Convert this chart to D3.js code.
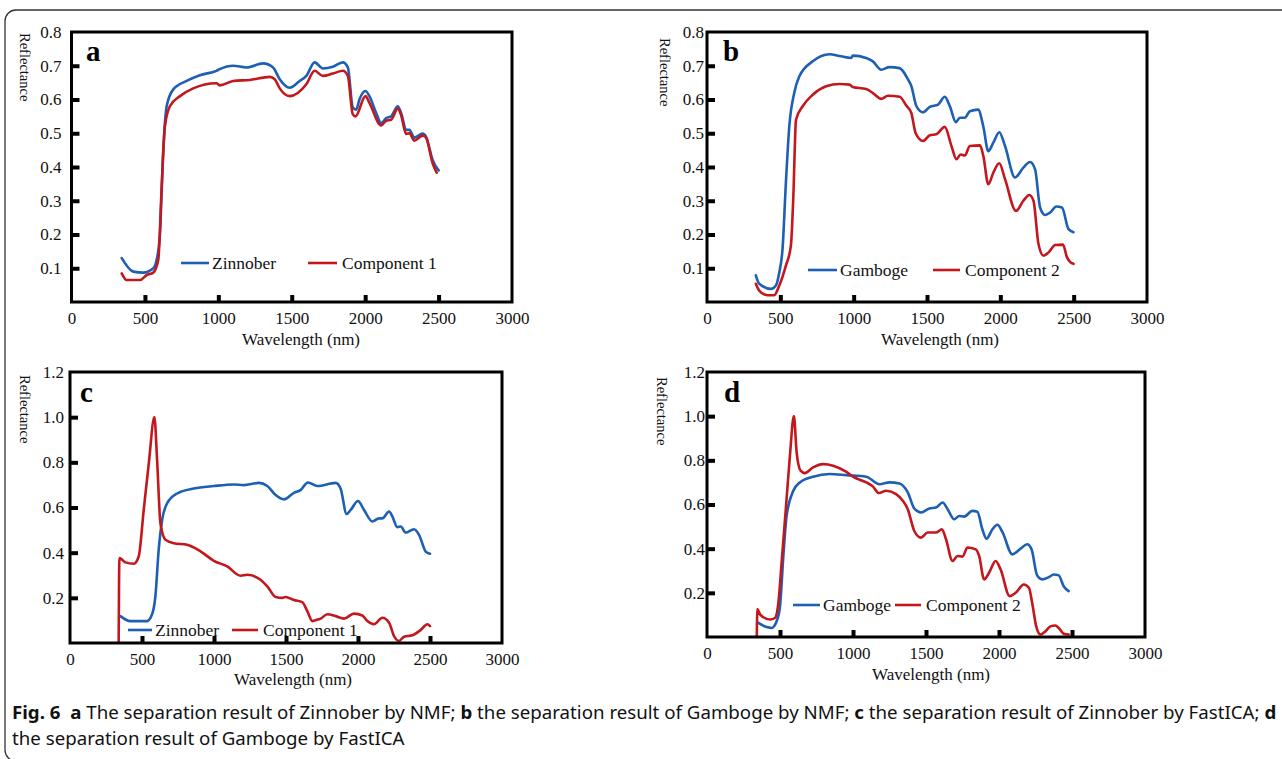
<!DOCTYPE html>
<html><head><meta charset="utf-8">
<script src="https://cdn.jsdelivr.net/npm/d3@7"></script>
<style>
html,body{margin:0;padding:0;background:#fff;}
svg{display:block;}
</style></head>
<body>
<svg id="chart" width="1282" height="759"></svg>
<script>
// ---------------- DATA ----------------
const xTicks = [0, 500, 1000, 1500, 2000, 2500, 3000];
const yTicksAB = [0.1, 0.2, 0.3, 0.4, 0.5, 0.6, 0.7, 0.8];
const yTicksCD = [0.2, 0.4, 0.6, 0.8, 1.0, 1.2];

// Panel a (NMF, Zinnober)
const aZinnoberX = [342,421,489,557,580,602,625,648,693,784,874,987,1010,1101,1191,1305,1373,1418,1486,1554,1599,1656,1712,1780,1848,1882,1916,1939,1961,2002,2029,2075,2109,2143,2177,2222,2245,2279,2301,2335,2392,2414,2460,2500];
const aZinnoberY = [0.130,0.090,0.087,0.100,0.125,0.200,0.450,0.580,0.630,0.655,0.672,0.685,0.690,0.700,0.695,0.707,0.695,0.660,0.635,0.655,0.670,0.710,0.692,0.697,0.710,0.695,0.576,0.570,0.600,0.625,0.610,0.560,0.530,0.545,0.550,0.580,0.560,0.510,0.510,0.487,0.499,0.490,0.420,0.390];
const aComp1X = [342,376,467,512,557,591,614,636,670,739,829,987,1010,1101,1214,1350,1384,1418,1486,1599,1656,1712,1780,1848,1882,1916,1934,2002,2029,2109,2143,2177,2222,2245,2279,2301,2335,2392,2414,2460,2487];
const aComp1Y = [0.085,0.065,0.065,0.080,0.087,0.125,0.340,0.520,0.580,0.610,0.633,0.648,0.642,0.655,0.658,0.667,0.660,0.633,0.610,0.645,0.685,0.670,0.677,0.685,0.670,0.556,0.550,0.610,0.590,0.523,0.537,0.540,0.573,0.553,0.498,0.500,0.478,0.493,0.488,0.410,0.383];

// Panel b (NMF, Gamboge)
const bGambogeX = [333,356,436,470,493,515,538,561,595,629,721,835,903,983,994,1085,1131,1188,1245,1313,1371,1393,1428,1473,1519,1576,1621,1656,1697,1724,1758,1792,1849,1884,1918,1952,1993,2032,2100,2157,2203,2237,2271,2305,2340,2381,2420,2465,2499];
const bGambogeY = [0.079,0.054,0.039,0.049,0.088,0.157,0.354,0.520,0.620,0.668,0.713,0.734,0.729,0.723,0.730,0.723,0.713,0.688,0.696,0.693,0.659,0.640,0.580,0.562,0.578,0.585,0.608,0.580,0.533,0.546,0.546,0.565,0.570,0.520,0.447,0.472,0.503,0.462,0.369,0.398,0.415,0.393,0.280,0.258,0.265,0.283,0.280,0.216,0.207];
const bComp2X = [333,356,413,458,493,538,572,588,607,652,721,812,903,972,994,1085,1131,1188,1233,1313,1359,1393,1423,1473,1519,1564,1621,1667,1701,1729,1758,1792,1861,1884,1918,1952,1993,2032,2107,2157,2198,2226,2260,2295,2329,2374,2427,2454,2477,2499];
const bComp2Y = [0.054,0.034,0.020,0.020,0.049,0.108,0.167,0.305,0.540,0.580,0.614,0.639,0.646,0.644,0.637,0.631,0.619,0.602,0.611,0.608,0.582,0.560,0.500,0.477,0.494,0.497,0.519,0.462,0.423,0.437,0.434,0.462,0.464,0.433,0.349,0.383,0.411,0.364,0.270,0.300,0.317,0.300,0.172,0.137,0.147,0.169,0.170,0.133,0.118,0.113];

// Panel c (FastICA, Zinnober)
const cZinnoberX = [350,419,535,570,593,616,640,674,744,860,999,1138,1207,1312,1370,1428,1486,1555,1601,1652,1717,1845,1879,1921,1949,2000,2042,2100,2146,2169,2216,2239,2273,2297,2331,2389,2424,2470,2500];
const cZinnoberY = [0.119,0.097,0.097,0.127,0.207,0.413,0.545,0.618,0.662,0.684,0.695,0.702,0.699,0.709,0.695,0.655,0.636,0.665,0.677,0.711,0.695,0.709,0.684,0.571,0.589,0.629,0.589,0.538,0.552,0.552,0.582,0.560,0.513,0.516,0.489,0.504,0.479,0.405,0.395];
const cComp1X = [338,343,361,385,443,477,512,547,586,605,628,663,721,813,906,999,1092,1184,1231,1323,1370,1428,1474,1497,1555,1613,1648,1683,1706,1740,1787,1845,1903,1972,2030,2065,2111,2169,2216,2250,2285,2320,2378,2436,2482,2500];
const cComp1Y = [0.000,0.376,0.369,0.357,0.351,0.383,0.589,0.794,1.000,0.809,0.530,0.457,0.442,0.435,0.406,0.364,0.339,0.298,0.302,0.280,0.251,0.204,0.200,0.204,0.190,0.181,0.141,0.097,0.101,0.108,0.127,0.119,0.108,0.130,0.122,0.097,0.083,0.112,0.090,0.031,0.009,0.028,0.034,0.058,0.083,0.075];

// Panel d (FastICA, Gamboge)
const dGambogeX = [352,409,443,477,500,523,545,591,636,727,841,955,1091,1182,1250,1318,1375,1420,1466,1523,1568,1614,1648,1693,1727,1761,1818,1852,1886,1914,1955,1989,2023,2091,2148,2193,2223,2261,2295,2341,2375,2409,2443,2477];
const dGambogeY = [0.064,0.045,0.041,0.071,0.139,0.367,0.548,0.662,0.700,0.726,0.738,0.733,0.726,0.692,0.700,0.695,0.655,0.582,0.564,0.582,0.586,0.609,0.579,0.533,0.548,0.545,0.571,0.567,0.488,0.445,0.488,0.508,0.476,0.374,0.400,0.420,0.397,0.279,0.261,0.271,0.283,0.279,0.230,0.208];
const dComp2X = [341,345,364,432,466,489,511,545,568,595,614,641,670,727,795,864,955,1000,1091,1136,1177,1227,1295,1341,1375,1420,1466,1511,1568,1609,1636,1682,1716,1750,1784,1841,1864,1898,1932,1977,2011,2073,2114,2170,2205,2227,2255,2284,2318,2352,2386,2409,2443,2477];
const dComp2Y = [0.000,0.127,0.102,0.079,0.086,0.155,0.336,0.624,0.821,1.000,0.836,0.753,0.742,0.768,0.783,0.776,0.748,0.726,0.700,0.682,0.652,0.662,0.647,0.617,0.579,0.480,0.450,0.473,0.473,0.488,0.445,0.344,0.367,0.364,0.405,0.397,0.367,0.261,0.291,0.344,0.306,0.185,0.200,0.238,0.223,0.155,0.048,0.011,0.026,0.048,0.052,0.041,0.015,0.011];

const seriesNames = {a:["Zinnober","Component 1"], b:["Gamboge","Component 2"], c:["Zinnober","Component 1"], d:["Gamboge","Component 2"]};
const caption1 = [["Fig. 6  ",true],["a",true],[" The separation result of Zinnober by NMF; ",false],["b",true],[" the separation result of Gamboge by NMF; ",false],["c",true],[" the separation result of Zinnober by FastICA; ",false],["d",true]];
const caption2 = "the separation result of Gamboge by FastICA";

// ---------------- LAYOUT ----------------
const BLUE = "#1c5fb5", RED = "#c3171d";
const SERIF = "'Liberation Serif','DejaVu Serif',serif";
const svg = d3.select("#chart");

// outer rounded frame
svg.append("rect").attr("x",5).attr("y",10).attr("width",1300).attr("height",751)
  .attr("rx",11).attr("fill","none").attr("stroke","#333").attr("stroke-width",1.3);

const panels = [
  {id:"a", l:71.5, r:512, t:32, b:302, yMax:0.8, yTicks:yTicksAB, fmt:d3.format(".1f"), ypad:10,
   s1:[aZinnoberX,aZinnoberY], s2:[aComp1X,aComp1Y], lab:[86,61], refl:[25,33], wl:[301,345],
   leg:{y:263, b1:181, t1:212, b2:308, t2:342}},
  {id:"b", l:707, r:1147, t:32, b:302, yMax:0.8, yTicks:yTicksAB, fmt:d3.format(".1f"), ypad:3,
   s1:[bGambogeX,bGambogeY], s2:[bComp2X,bComp2Y], lab:[723,61], refl:[665,38], wl:[940,345],
   leg:{y:270, b1:808, t1:840, b2:933, t2:965}},
  {id:"c", l:70, r:502, t:372, b:643, yMax:1.2, yTicks:yTicksCD, fmt:d3.format(".1f"), ypad:6,
   s1:[cZinnoberX,cZinnoberY], s2:[cComp1X,cComp1Y], lab:[80,402], refl:[25,375], wl:[293,685],
   leg:{y:630, b1:128, t1:155, b2:232, t2:263}},
  {id:"d", l:707, r:1145, t:372, b:637, yMax:1.2, yTicks:yTicksCD, fmt:d3.format(".1f"), ypad:2,
   s1:[dGambogeX,dGambogeY], s2:[dComp2X,dComp2Y], lab:[724,402], refl:[662,377], wl:[931,680],
   leg:{y:605, b1:793, t1:823, b2:895, t2:926}}
];

panels.forEach(p => {
  const x = d3.scaleLinear().domain([0,3000]).range([p.l,p.r]);
  const y = d3.scaleLinear().domain([0,p.yMax]).range([p.b,p.t]);
  const g = svg.append("g");
  const clipId = "clip-"+p.id;
  g.append("clipPath").attr("id",clipId).append("rect")
    .attr("x",p.l).attr("y",p.t).attr("width",p.r-p.l).attr("height",p.b-p.t);

  // y labels
  const yAx = g.append("g").attr("transform",`translate(${p.l},0)`)
    .call(d3.axisLeft(y).tickValues(p.yTicks).tickFormat(p.fmt).tickSize(0).tickPadding(p.ypad));
  yAx.select(".domain").remove();
  yAx.selectAll("text").attr("font-family",SERIF).attr("font-size",17).attr("fill","#111");
  // y tick marks (inward)
  const yTm = g.append("g").attr("transform",`translate(${p.l},0)`)
    .call(d3.axisLeft(y).tickValues(p.yTicks.filter(v=>v<p.yMax-1e-9)).tickFormat("").tickSize(-8));
  yTm.select(".domain").remove();
  yTm.selectAll("line").attr("stroke","#000").attr("stroke-width",4);

  // x labels
  const xAx = g.append("g").attr("transform",`translate(0,${p.b})`)
    .call(d3.axisBottom(x).tickValues(xTicks).tickFormat(d3.format("d")).tickSize(0).tickPadding(10));
  xAx.select(".domain").remove();
  xAx.selectAll("text").attr("font-family",SERIF).attr("font-size",17).attr("fill","#111");
  const xTm = g.append("g").attr("transform",`translate(0,${p.b})`)
    .call(d3.axisBottom(x).tickValues(xTicks.slice(1,-1)).tickFormat("").tickSize(-7));
  xTm.select(".domain").remove();
  xTm.selectAll("line").attr("stroke","#000").attr("stroke-width",4);

  // lines
  const line = d3.line().x(d=>x(d[0])).y(d=>y(d[1])).curve(d3.curveMonotoneX);
  const lg = g.append("g").attr("clip-path",`url(#${clipId})`);
  const d1 = p.s1[0].map((v,i)=>[v,p.s1[1][i]]);
  const d2 = p.s2[0].map((v,i)=>[v,p.s2[1][i]]);
  [[d1,BLUE],[d2,RED]].forEach(([dd,col]) => {
    lg.append("path").datum(dd).attr("d",line).attr("fill","none")
      .attr("stroke",col).attr("stroke-width",2.6).attr("stroke-linejoin","round").attr("stroke-linecap","round");
  });

  // box
  g.append("rect").attr("x",p.l).attr("y",p.t).attr("width",p.r-p.l).attr("height",p.b-p.t)
    .attr("fill","none").attr("stroke","#000").attr("stroke-width",3);

  // panel letter
  g.append("text").attr("x",p.lab[0]).attr("y",p.lab[1]).text(p.id)
    .attr("font-family",SERIF).attr("font-weight","bold").attr("font-size",29).attr("fill","#000");

  // axis titles
  g.append("text").attr("transform",`translate(${p.refl[0]-5},${p.refl[1]}) rotate(90)`)
    .text("Reflectance").attr("font-family",SERIF).attr("font-size",14.5).attr("fill","#111");
  g.append("text").attr("x",p.wl[0]).attr("y",p.wl[1]).attr("text-anchor","middle")
    .text("Wavelength (nm)").attr("font-family",SERIF).attr("font-size",17).attr("fill","#111");

  // legend
  const L = p.leg;
  g.append("line").attr("x1",L.b1).attr("x2",L.t1-3).attr("y1",L.y).attr("y2",L.y).attr("stroke",BLUE).attr("stroke-width",2.6);
  g.append("text").attr("x",L.t1).attr("y",L.y+6).text(seriesNames[p.id][0]).attr("font-family",SERIF).attr("font-size",17.5).attr("fill","#111");
  g.append("line").attr("x1",L.b2).attr("x2",L.t2-5).attr("y1",L.y).attr("y2",L.y).attr("stroke",RED).attr("stroke-width",2.6);
  g.append("text").attr("x",L.t2).attr("y",L.y+6).text(seriesNames[p.id][1]).attr("font-family",SERIF).attr("font-size",17.5).attr("fill","#111");
});

// caption
const SANS = "'Noto Sans','Open Sans',sans-serif";
const capG = svg.append("g");
const t1 = capG.append("text").attr("x",0).attr("y",719).attr("font-family",SANS).attr("font-size",18).attr("fill","#111");
caption1.forEach(([s,b]) => t1.append("tspan").text(s).attr("font-weight", b?"bold":"normal").style("white-space","pre"));
const t2 = capG.append("text").attr("x",0).attr("y",745).attr("font-family",SANS).attr("font-size",18).attr("fill","#111").text(caption2);
const w1 = t1.node().getComputedTextLength();
const sc = (1277-12)/w1;
capG.attr("transform",`translate(12,0) scale(${sc},1)`);
</script>
</body></html>
